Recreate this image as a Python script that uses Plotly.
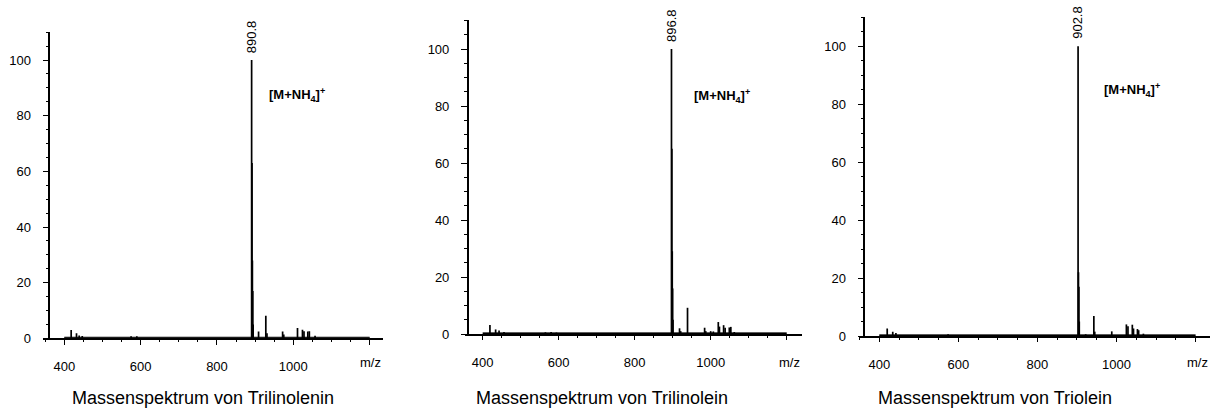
import plotly.graph_objects as go

# --- spectra: m/z positions and relative intensities (%) ---
trilinolenin_mz = [418, 432, 439, 447, 575, 590, 890.8, 891.8, 892.8, 893.8, 894.8,
                   909, 928, 931, 972, 975, 1011, 1024, 1028, 1038, 1042, 1057]
trilinolenin_int = [3.0, 1.8, 1.0, 0.8, 0.7, 0.7, 100, 63, 28, 17, 5,
                    2.4, 8.1, 1.8, 2.4, 1.4, 3.7, 3.1, 2.5, 2.4, 2.5, 0.9]

trilinolein_mz = [419, 434, 443, 456, 565, 580, 594, 896.8, 897.8, 898.8, 899.8, 900.8,
                  918, 921, 939, 984, 987, 1000, 1007, 1020, 1023, 1034, 1038, 1049, 1053, 1062]
trilinolein_int = [3.2, 1.6, 1.2, 0.7, 0.6, 0.7, 0.5, 100, 65, 29, 16, 5,
                   2.0, 1.0, 9.2, 2.2, 1.0, 1.0, 0.9, 4.2, 2.6, 3.1, 2.2, 2.3, 2.5, 0.7]

triolein_mz = [420, 434, 442, 574, 902.8, 903.8, 904.8, 905.8, 922, 942.7, 945,
               988, 1025, 1029, 1040, 1043, 1053, 1056, 1068]
triolein_int = [2.6, 1.5, 1.0, 0.6, 100, 22, 17, 5, 0.6, 6.9, 1.5,
                1.6, 4.0, 3.4, 3.9, 2.6, 2.4, 2.0, 0.8]

base_peaks = [890.8, 896.8, 902.8]
compounds = ["Trilinolenin", "Trilinolein", "Triolein"]
scan_range = [400, 1200]
noise_floor = [0.4, 0.4, 0.4]

x_ticks = [400, 600, 800, 1000, 1200]
x_tick_text = ["400", "600", "800", "1000", ""]
y_ticks = [0, 20, 40, 60, 80, 100]

spectra = [(trilinolenin_mz, trilinolenin_int),
           (trilinolein_mz, trilinolein_int),
           (triolein_mz, triolein_int)]

W, H = 1224, 414
FONT = "Arial, Liberation Sans, sans-serif"

# panel frames in pixels: x-axis left/right, y-axis top/bottom, y-axis x position
panels = [
    dict(x0=43, x1=383, top=31.7, bottom=338.3, yax=49.3, xr=[344.2, 1235.0],
         lab=(931, 87.6), title_x=202.5),
    dict(x0=465, x1=801.7, top=20, bottom=334, yax=467.7, xr=[353.4, 1239.5],
         lab=(951, 83.7), title_x=601.7),
    dict(x0=859.3, x1=1210, top=16.7, bottom=336, yax=864.3, xr=[349.4, 1236.5],
         lab=(964, 85.0), title_x=995.0),
]

fig = go.Figure()
layout = dict(width=W, height=H, margin=dict(l=0, r=0, t=0, b=0, autoexpand=False),
              paper_bgcolor="white", plot_bgcolor="white", showlegend=False,
              font=dict(family=FONT, color="black", size=13))
annotations = []

for i, (p, (mz, inten)) in enumerate(zip(panels, spectra)):
    n = "" if i == 0 else str(i + 1)
    xa, ya = "x" + n, "y" + n

    # noise floor across the scanned range
    fig.add_trace(go.Scatter(x=scan_range, y=[noise_floor[i]] * 2, xaxis=xa, yaxis=ya,
                             mode="lines", fill="tozeroy", fillcolor="black",
                             line=dict(color="black", width=0.8), hoverinfo="skip"))
    # stick spectrum
    sx, sy = [], []
    for m, v in zip(mz, inten):
        sx += [m, m, None]
        sy += [0, v, None]
    fig.add_trace(go.Scatter(x=sx, y=sy, xaxis=xa, yaxis=ya, mode="lines",
                             line=dict(color="black", width=1.7), hoverinfo="skip"))

    xdom = [p["x0"] / W, p["x1"] / W]
    ydom = [1 - p["bottom"] / H, 1 - p["top"] / H]
    layout["xaxis" + n] = dict(
        domain=xdom, anchor=ya, range=p["xr"], showgrid=False, zeroline=False,
        showline=True, linecolor="black", linewidth=1.5,
        tickmode="array", tickvals=x_ticks, ticktext=x_tick_text,
        ticks="outside", ticklen=4.5, tickwidth=1, tickcolor="black",
        minor=dict(ticks="outside", dtick=50, tick0=0, ticklen=2, tickwidth=1, tickcolor="black"),
        tickfont=dict(size=13, family=FONT), ticklabelstandoff=11)
    layout["yaxis" + n] = dict(
        domain=ydom, anchor="free", position=p["yax"] / W,
        range=[0, 110.2], showgrid=False, zeroline=False,
        showline=True, linecolor="black", linewidth=1.5,
        tickmode="array", tickvals=y_ticks,
        ticks="outside", ticklen=6, tickwidth=1, tickcolor="black",
        minor=dict(ticks="outside", dtick=5, tick0=0, ticklen=3, tickwidth=1, tickcolor="black"),
        tickfont=dict(size=13, family=FONT), ticklabelstandoff=9)

    # base peak m/z label
    bp = base_peaks[i]
    annotations.append(dict(x=bp, y=max(inten), xref=xa, yref=ya, text=f"{bp:.1f}",
                            textangle=-90, showarrow=False, xanchor="center",
                            yanchor="bottom", yshift=5, font=dict(size=13, family=FONT)))
    # ion label
    annotations.append(dict(x=p["lab"][0], y=p["lab"][1], xref=xa, yref=ya,
                            text="<b>[M+NH<sub>4</sub>]<sup>+</sup></b>", showarrow=False,
                            xanchor="left", yanchor="middle", font=dict(size=13, family=FONT)))
    # axis unit
    annotations.append(dict(x=p["xr"][1], y=1 - 362 / H, xref=xa, yref="paper", text="m/z",
                            showarrow=False, xanchor="right", yanchor="middle",
                            font=dict(size=13, family=FONT)))
    # caption
    annotations.append(dict(x=p["title_x"] / W, y=1 - 398 / H, xref="paper", yref="paper",
                            text=f"Massenspektrum von {compounds[i]}", showarrow=False,
                            xanchor="center", yanchor="middle",
                            font=dict(size=18, family=FONT)))

layout["annotations"] = annotations
fig.update_layout(**layout)
fig.write_html("out.html")
